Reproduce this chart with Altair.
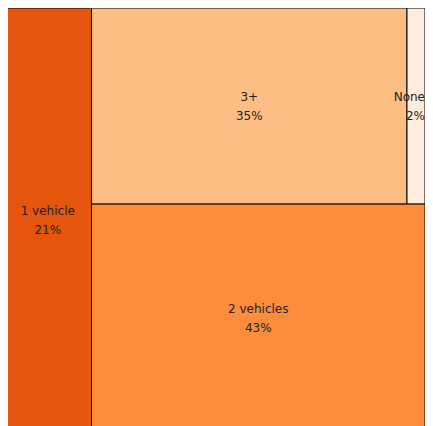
import altair as alt
import pandas as pd

categories = ["1 vehicle", "2 vehicles", "3+", "None"]
shares = [21, 43, 35, 2]
colors = ["#e6550d", "#fd8d3c", "#fdbe85", "#feedde"]

val = dict(zip(categories, shares))
total = sum(shares)

# slice-and-dice layout derived from the shares
rows = []
w1 = val["1 vehicle"] / total
rows.append(("1 vehicle", 0.0, w1, 0.0, 1.0))
rest = total - val["1 vehicle"]
top = val["3+"] + val["None"]
htop = top / rest
x_split = w1 + (1 - w1) * val["3+"] / top
rows.append(("3+", w1, x_split, 0.0, htop))
rows.append(("None", x_split, 1.0, 0.0, htop))
rows.append(("2 vehicles", w1, 1.0, htop, 1.0))

df = pd.DataFrame(rows, columns=["cat", "x0", "x1", "y0", "y1"])
df["xc"] = (df.x0 + df.x1) / 2
df["yc"] = (df.y0 + df.y1) / 2
df["label"] = df.cat.map(lambda c: [c, f"{val[c]}%"])
df["narrow"] = (df.x1 - df.x0) < 0.1

xs = alt.Scale(domain=[0, 1], range=[-4, 417])
ys = alt.Scale(domain=[0, 1], range=[0, 424])

base = alt.Chart(df)
rects = base.mark_rect(stroke="black", strokeWidth=1).encode(
    x=alt.X("x0:Q", scale=xs, axis=None),
    x2="x1:Q",
    y=alt.Y("y0:Q", scale=ys, axis=None),
    y2="y1:Q",
    color=alt.Color("cat:N", scale=alt.Scale(domain=categories, range=colors), legend=None),
)
tstyle = dict(font="DejaVu Sans", fontSize=12, color="#222", lineHeight=19, baseline="middle", dy=-9)
texts = base.transform_filter("!datum.narrow").mark_text(**tstyle).encode(
    x=alt.X("xc:Q", scale=xs),
    y=alt.Y("yc:Q", scale=ys),
    text="label",
)
texts_narrow = base.transform_filter("datum.narrow").mark_text(align="right", **tstyle).encode(
    x=alt.X("x1:Q", scale=xs),
    y=alt.Y("yc:Q", scale=ys),
    text="label",
)

chart = (rects + texts + texts_narrow).properties(width=417, height=418, padding=0, autosize="none").configure_view(stroke=None)
chart.save("out.html", embed_options={"renderer": "svg", "actions": False})
